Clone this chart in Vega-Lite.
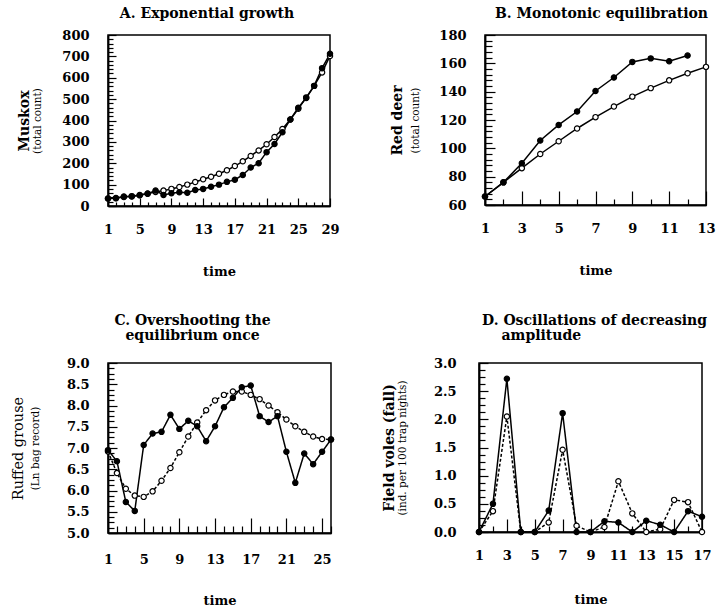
{
  "$schema": "https://vega.github.io/schema/vega-lite/v6.json",
  "background": "white",
  "padding": {"left": 9, "top": 6, "right": 5, "bottom": 5},
  "config": {
    "font": "DejaVu Serif",
    "view": {"stroke": "black", "strokeWidth": 1.5},
    "axis": {
      "grid": false,
      "domain": true,
      "domainColor": "black",
      "domainWidth": 1.5,
      "ticks": true,
      "tickColor": "black",
      "tickWidth": 1.2,
      "labelFlush": false,
      "labelFont": "DejaVu Serif",
      "labelFontSize": 13,
      "labelFontWeight": "bold",
      "labelColor": "black",
      "titleFont": "DejaVu Serif",
      "titleColor": "black"
    },
    "axisX": {"orient": "bottom", "titleFontSize": 13, "titleFontWeight": "bold", "titlePadding": 29},
    "axisY": {"orient": "left"},
    "title": {"font": "DejaVu Serif", "fontSize": 14, "fontWeight": "bold", "color": "black", "lineHeight": 15}
  },
  "datasets": {
    "muskox": [
      {"t": 1, "series": "model", "value": 35}, {"t": 2, "series": "model", "value": 37}, {"t": 3, "series": "model", "value": 42},
      {"t": 4, "series": "model", "value": 46}, {"t": 5, "series": "model", "value": 51}, {"t": 6, "series": "model", "value": 58},
      {"t": 7, "series": "model", "value": 66}, {"t": 8, "series": "model", "value": 72}, {"t": 9, "series": "model", "value": 80},
      {"t": 10, "series": "model", "value": 89}, {"t": 11, "series": "model", "value": 100}, {"t": 12, "series": "model", "value": 112},
      {"t": 13, "series": "model", "value": 125}, {"t": 14, "series": "model", "value": 137}, {"t": 15, "series": "model", "value": 151},
      {"t": 16, "series": "model", "value": 167}, {"t": 17, "series": "model", "value": 187}, {"t": 18, "series": "model", "value": 209},
      {"t": 19, "series": "model", "value": 234}, {"t": 20, "series": "model", "value": 260}, {"t": 21, "series": "model", "value": 289},
      {"t": 22, "series": "model", "value": 323}, {"t": 23, "series": "model", "value": 360}, {"t": 24, "series": "model", "value": 405},
      {"t": 25, "series": "model", "value": 455}, {"t": 26, "series": "model", "value": 508}, {"t": 27, "series": "model", "value": 562},
      {"t": 28, "series": "model", "value": 625}, {"t": 29, "series": "model", "value": 702},
      {"t": 1, "series": "observed", "value": 35}, {"t": 2, "series": "observed", "value": 36}, {"t": 3, "series": "observed", "value": 44},
      {"t": 4, "series": "observed", "value": 45}, {"t": 5, "series": "observed", "value": 50}, {"t": 6, "series": "observed", "value": 57},
      {"t": 7, "series": "observed", "value": 72}, {"t": 8, "series": "observed", "value": 52}, {"t": 9, "series": "observed", "value": 60},
      {"t": 10, "series": "observed", "value": 64}, {"t": 11, "series": "observed", "value": 62}, {"t": 12, "series": "observed", "value": 75},
      {"t": 13, "series": "observed", "value": 80}, {"t": 14, "series": "observed", "value": 90}, {"t": 15, "series": "observed", "value": 100},
      {"t": 16, "series": "observed", "value": 113}, {"t": 17, "series": "observed", "value": 123}, {"t": 18, "series": "observed", "value": 145},
      {"t": 19, "series": "observed", "value": 180}, {"t": 20, "series": "observed", "value": 200}, {"t": 21, "series": "observed", "value": 252},
      {"t": 22, "series": "observed", "value": 290}, {"t": 23, "series": "observed", "value": 345}, {"t": 24, "series": "observed", "value": 405},
      {"t": 25, "series": "observed", "value": 460}, {"t": 26, "series": "observed", "value": 505}, {"t": 27, "series": "observed", "value": 562},
      {"t": 28, "series": "observed", "value": 645}, {"t": 29, "series": "observed", "value": 712}
    ],
    "deer": [
      {"t": 1, "series": "model", "value": 66}, {"t": 2, "series": "model", "value": 76}, {"t": 3, "series": "model", "value": 86},
      {"t": 4, "series": "model", "value": 96}, {"t": 5, "series": "model", "value": 105}, {"t": 6, "series": "model", "value": 114},
      {"t": 7, "series": "model", "value": 122}, {"t": 8, "series": "model", "value": 129.5}, {"t": 9, "series": "model", "value": 136.5},
      {"t": 10, "series": "model", "value": 142.5}, {"t": 11, "series": "model", "value": 148}, {"t": 12, "series": "model", "value": 153},
      {"t": 13, "series": "model", "value": 157.5},
      {"t": 1, "series": "observed", "value": 66}, {"t": 2, "series": "observed", "value": 76}, {"t": 3, "series": "observed", "value": 89.5},
      {"t": 4, "series": "observed", "value": 105.5}, {"t": 5, "series": "observed", "value": 116.5}, {"t": 6, "series": "observed", "value": 126},
      {"t": 7, "series": "observed", "value": 140.5}, {"t": 8, "series": "observed", "value": 150}, {"t": 9, "series": "observed", "value": 161},
      {"t": 10, "series": "observed", "value": 163.5}, {"t": 11, "series": "observed", "value": 161.5}, {"t": 12, "series": "observed", "value": 165.5}
    ],
    "grouse": [
      {"t": 1, "series": "model", "value": 6.92}, {"t": 2, "series": "model", "value": 6.41}, {"t": 3, "series": "model", "value": 6.04},
      {"t": 4, "series": "model", "value": 5.88}, {"t": 5, "series": "model", "value": 5.85}, {"t": 6, "series": "model", "value": 5.98},
      {"t": 7, "series": "model", "value": 6.23}, {"t": 8, "series": "model", "value": 6.53}, {"t": 9, "series": "model", "value": 6.9},
      {"t": 10, "series": "model", "value": 7.27}, {"t": 11, "series": "model", "value": 7.6}, {"t": 12, "series": "model", "value": 7.89},
      {"t": 13, "series": "model", "value": 8.12}, {"t": 14, "series": "model", "value": 8.25}, {"t": 15, "series": "model", "value": 8.33},
      {"t": 16, "series": "model", "value": 8.33}, {"t": 17, "series": "model", "value": 8.25}, {"t": 18, "series": "model", "value": 8.15},
      {"t": 19, "series": "model", "value": 8.0}, {"t": 20, "series": "model", "value": 7.84}, {"t": 21, "series": "model", "value": 7.67},
      {"t": 22, "series": "model", "value": 7.51}, {"t": 23, "series": "model", "value": 7.38}, {"t": 24, "series": "model", "value": 7.27},
      {"t": 25, "series": "model", "value": 7.21}, {"t": 26, "series": "model", "value": 7.2},
      {"t": 1, "series": "observed", "value": 6.95}, {"t": 2, "series": "observed", "value": 6.69}, {"t": 3, "series": "observed", "value": 5.73},
      {"t": 4, "series": "observed", "value": 5.52}, {"t": 5, "series": "observed", "value": 7.07}, {"t": 6, "series": "observed", "value": 7.34},
      {"t": 7, "series": "observed", "value": 7.38}, {"t": 8, "series": "observed", "value": 7.78}, {"t": 9, "series": "observed", "value": 7.45},
      {"t": 10, "series": "observed", "value": 7.64}, {"t": 11, "series": "observed", "value": 7.51}, {"t": 12, "series": "observed", "value": 7.16},
      {"t": 13, "series": "observed", "value": 7.51}, {"t": 14, "series": "observed", "value": 7.96}, {"t": 15, "series": "observed", "value": 8.18},
      {"t": 16, "series": "observed", "value": 8.43}, {"t": 17, "series": "observed", "value": 8.47}, {"t": 18, "series": "observed", "value": 7.75},
      {"t": 19, "series": "observed", "value": 7.61}, {"t": 20, "series": "observed", "value": 7.75}, {"t": 21, "series": "observed", "value": 6.91},
      {"t": 22, "series": "observed", "value": 6.18}, {"t": 23, "series": "observed", "value": 6.87}, {"t": 24, "series": "observed", "value": 6.62},
      {"t": 25, "series": "observed", "value": 6.91}, {"t": 26, "series": "observed", "value": 7.2}
    ],
    "voles": [
      {"t": 1, "series": "model", "value": 0}, {"t": 2, "series": "model", "value": 0.37}, {"t": 3, "series": "model", "value": 2.05},
      {"t": 4, "series": "model", "value": 0}, {"t": 5, "series": "model", "value": 0}, {"t": 6, "series": "model", "value": 0.17},
      {"t": 7, "series": "model", "value": 1.46}, {"t": 8, "series": "model", "value": 0.11}, {"t": 9, "series": "model", "value": 0},
      {"t": 10, "series": "model", "value": 0.09}, {"t": 11, "series": "model", "value": 0.9}, {"t": 12, "series": "model", "value": 0.33},
      {"t": 13, "series": "model", "value": 0}, {"t": 14, "series": "model", "value": 0.05}, {"t": 15, "series": "model", "value": 0.57},
      {"t": 16, "series": "model", "value": 0.53}, {"t": 17, "series": "model", "value": 0},
      {"t": 1, "series": "observed", "value": 0}, {"t": 2, "series": "observed", "value": 0.5}, {"t": 3, "series": "observed", "value": 2.72},
      {"t": 4, "series": "observed", "value": 0}, {"t": 5, "series": "observed", "value": 0}, {"t": 6, "series": "observed", "value": 0.38},
      {"t": 7, "series": "observed", "value": 2.11}, {"t": 8, "series": "observed", "value": 0}, {"t": 9, "series": "observed", "value": 0},
      {"t": 10, "series": "observed", "value": 0.19}, {"t": 11, "series": "observed", "value": 0.17}, {"t": 12, "series": "observed", "value": 0},
      {"t": 13, "series": "observed", "value": 0.2}, {"t": 14, "series": "observed", "value": 0.13}, {"t": 15, "series": "observed", "value": 0},
      {"t": 16, "series": "observed", "value": 0.37}, {"t": 17, "series": "observed", "value": 0.27}
    ]
  },
  "spacing": 34,
  "vconcat": [
    {
      "spacing": 49,
      "hconcat": [
        {
          "title": {"text": "A. Exponential growth", "offset": 8, "dx": -12},
          "width": 222,
          "height": 171,
          "data": {"name": "muskox"},
          "resolve": {"axis": {"x": "independent", "y": "independent"}},
          "layer": [
            {
              "mark": {"type": "line", "color": "black", "strokeWidth": 1.5},
              "encoding": {
                "x": {
                  "field": "t", "type": "quantitative",
                  "scale": {"domain": [1, 29], "nice": false, "zero": false},
                  "axis": {"orient": "bottom", "title": "time", "values": [1, 5, 9, 13, 17, 21, 25, 29], "tickSize": -8, "labelPadding": 25}
                },
                "y": {
                  "field": "value", "type": "quantitative",
                  "scale": {"domain": [0, 800], "nice": false},
                  "axis": {"orient": "left", "title": "(total count)", "titleFontSize": 10.5, "titleFontWeight": "normal", "titlePadding": 19, "values": [0, 100, 200, 300, 400, 500, 600, 700, 800], "tickSize": -8, "labelPadding": 27}
                },
                "detail": {"field": "series", "type": "nominal"}
              }
            },
            {
              "mark": {"type": "point", "filled": true, "size": 28, "stroke": "black", "strokeWidth": 1.2, "opacity": 1},
              "encoding": {
                "x": {
                  "field": "t", "type": "quantitative",
                  "axis": {"orient": "bottom", "title": null, "labels": false, "tickSize": -4, "values": [2, 3, 4, 6, 7, 8, 10, 11, 12, 14, 15, 16, 18, 19, 20, 22, 23, 24, 26, 27, 28]}
                },
                "y": {
                  "field": "value", "type": "quantitative",
                  "axis": {
                    "orient": "left", "title": "Muskox", "titleFontSize": 14, "titleFontWeight": "bold", "titlePadding": 76, "labels": false, "tickSize": -5,
                    "values": [20, 40, 60, 80, 120, 140, 160, 180, 220, 240, 260, 280, 320, 340, 360, 380, 420, 440, 460, 480, 520, 540, 560, 580, 620, 640, 660, 680, 720, 740, 760, 780]
                  }
                },
                "fill": {"field": "series", "type": "nominal", "scale": {"domain": ["observed", "model"], "range": ["black", "white"]}, "legend": null}
              }
            }
          ]
        },
        {
          "title": {"text": "B. Monotonic equilibration", "offset": 8, "dx": 6},
          "width": 221,
          "height": 170,
          "data": {"name": "deer"},
          "resolve": {"axis": {"x": "independent", "y": "independent"}},
          "layer": [
            {
              "mark": {"type": "line", "color": "black", "strokeWidth": 1.5},
              "encoding": {
                "x": {
                  "field": "t", "type": "quantitative",
                  "scale": {"domain": [1, 13], "nice": false, "zero": false},
                  "axis": {"orient": "bottom", "title": "time", "values": [1, 3, 5, 7, 9, 11, 13], "tickSize": -14, "labelPadding": 31}
                },
                "y": {
                  "field": "value", "type": "quantitative",
                  "scale": {"domain": [60, 180], "nice": false, "zero": false},
                  "axis": {"orient": "left", "title": "(total count)", "titleFontSize": 10.5, "titleFontWeight": "normal", "titlePadding": 18, "values": [60, 80, 100, 120, 140, 160, 180], "tickSize": -10, "labelPadding": 29}
                },
                "detail": {"field": "series", "type": "nominal"}
              }
            },
            {
              "mark": {"type": "point", "filled": true, "size": 28, "stroke": "black", "strokeWidth": 1.2, "opacity": 1},
              "encoding": {
                "x": {
                  "field": "t", "type": "quantitative",
                  "axis": {"orient": "bottom", "title": null, "labels": false, "tickSize": -6, "values": [2, 4, 6, 8, 10, 12]}
                },
                "y": {
                  "field": "value", "type": "quantitative",
                  "axis": {
                    "orient": "left", "title": "Red deer", "titleFontSize": 14, "titleFontWeight": "bold", "titlePadding": 80, "labels": false, "tickSize": -7,
                    "values": [64, 68, 72, 76, 84, 88, 92, 96, 104, 108, 112, 116, 124, 128, 132, 136, 144, 148, 152, 156, 164, 168, 172, 176]
                  }
                },
                "fill": {"field": "series", "type": "nominal", "scale": {"domain": ["observed", "model"], "range": ["black", "white"]}, "legend": null}
              }
            }
          ]
        }
      ]
    },
    {
      "spacing": 44,
      "hconcat": [
        {
          "title": {"text": ["C. Overshooting the", "equilibrium once"], "offset": 14, "dx": -27},
          "width": 223,
          "height": 170,
          "data": {"name": "grouse"},
          "resolve": {"axis": {"x": "independent", "y": "independent"}},
          "layer": [
            {
              "mark": {"type": "line", "color": "black", "strokeWidth": 1.5},
              "encoding": {
                "x": {
                  "field": "t", "type": "quantitative",
                  "scale": {"domain": [1, 26], "nice": false, "zero": false},
                  "axis": {"orient": "bottom", "title": "time", "values": [1, 5, 9, 13, 17, 21, 25], "tickSize": -15, "labelPadding": 35, "titlePadding": 28}
                },
                "y": {
                  "field": "value", "type": "quantitative",
                  "scale": {"domain": [5, 9], "nice": false, "zero": false},
                  "axis": {"orient": "left", "title": "(Ln  bag record)", "titleFontSize": 10.5, "titleFontWeight": "normal", "titlePadding": 26, "format": ".1f", "values": [5, 5.5, 6, 6.5, 7, 7.5, 8, 8.5, 9], "tickSize": -9, "labelPadding": 28}
                },
                "detail": {"field": "series", "type": "nominal"},
                "strokeDash": {"field": "series", "type": "nominal", "scale": {"domain": ["observed", "model"], "range": [[1, 0], [3, 2]]}, "legend": null}
              }
            },
            {
              "mark": {"type": "point", "filled": true, "size": 28, "stroke": "black", "strokeWidth": 1.2, "opacity": 1},
              "encoding": {
                "x": {
                  "field": "t", "type": "quantitative",
                  "axis": {"orient": "bottom", "title": null, "labels": false, "tickSize": -7, "values": [2, 3, 4, 6, 7, 8, 10, 11, 12, 14, 15, 16, 18, 19, 20, 22, 23, 24, 26]}
                },
                "y": {
                  "field": "value", "type": "quantitative",
                  "axis": {
                    "orient": "left", "title": "Ruffed grouse", "titleFontSize": 14.5, "titleFontWeight": "normal", "titlePadding": 82, "labels": false, "tickSize": -6,
                    "values": [5.125, 5.25, 5.375, 5.625, 5.75, 5.875, 6.125, 6.25, 6.375, 6.625, 6.75, 6.875, 7.125, 7.25, 7.375, 7.625, 7.75, 7.875, 8.125, 8.25, 8.375, 8.625, 8.75, 8.875]
                  }
                },
                "fill": {"field": "series", "type": "nominal", "scale": {"domain": ["observed", "model"], "range": ["black", "white"]}, "legend": null}
              }
            }
          ]
        },
        {
          "title": {"text": ["D. Oscillations of decreasing", "\u200b\u00a0\u00a0\u00a0\u00a0amplitude"], "anchor": "start", "frame": "group", "dx": 3, "offset": 14},
          "width": 223,
          "height": 169,
          "data": {"name": "voles"},
          "resolve": {"axis": {"x": "independent", "y": "independent"}},
          "layer": [
            {
              "mark": {"type": "line", "color": "black", "strokeWidth": 1.5},
              "encoding": {
                "x": {
                  "field": "t", "type": "quantitative",
                  "scale": {"domain": [1, 17], "nice": false, "zero": false},
                  "axis": {"orient": "bottom", "title": "time", "values": [1, 3, 5, 7, 9, 11, 13, 15, 17], "tickSize": -13, "labelPadding": 30, "titlePadding": 31}
                },
                "y": {
                  "field": "value", "type": "quantitative",
                  "scale": {"domain": [0, 3], "nice": false},
                  "axis": {"orient": "left", "title": "(ind. per 100 trap nights)", "titleFontSize": 10.5, "titleFontWeight": "normal", "titlePadding": 26, "format": ".1f", "values": [0, 0.5, 1, 1.5, 2, 2.5, 3], "tickSize": -9, "labelPadding": 32}
                },
                "detail": {"field": "series", "type": "nominal"},
                "strokeDash": {"field": "series", "type": "nominal", "scale": {"domain": ["observed", "model"], "range": [[1, 0], [3, 2]]}, "legend": null}
              }
            },
            {
              "mark": {"type": "point", "filled": true, "size": 28, "stroke": "black", "strokeWidth": 1.2, "opacity": 1},
              "encoding": {
                "x": {
                  "field": "t", "type": "quantitative",
                  "axis": {"orient": "bottom", "title": null, "labels": false, "tickSize": -6, "values": [2, 4, 6, 8, 10, 12, 14, 16]}
                },
                "y": {
                  "field": "value", "type": "quantitative",
                  "axis": {
                    "orient": "left", "title": "Field voles (fall)", "titleFontSize": 14, "titleFontWeight": "bold", "titlePadding": 82, "labels": false, "tickSize": -6,
                    "values": [0.125, 0.25, 0.375, 0.625, 0.75, 0.875, 1.125, 1.25, 1.375, 1.625, 1.75, 1.875, 2.125, 2.25, 2.375, 2.625, 2.75, 2.875]
                  }
                },
                "fill": {"field": "series", "type": "nominal", "scale": {"domain": ["observed", "model"], "range": ["black", "white"]}, "legend": null}
              }
            }
          ]
        }
      ]
    }
  ]
}
